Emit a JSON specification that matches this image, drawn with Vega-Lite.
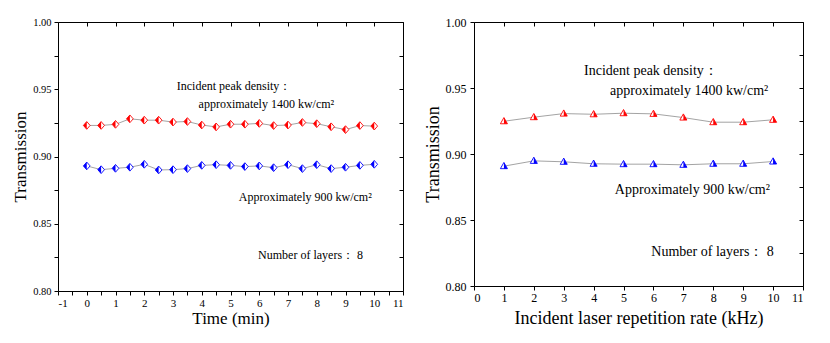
{
  "$schema": "https://vega.github.io/schema/vega-lite/v6.json",
  "padding": {"left": 11, "top": 16, "right": 5, "bottom": 5},
  "spacing": 20,
  "background": "white",
  "config": {
    "font": "'Liberation Serif', 'Times New Roman', serif",
    "view": {"stroke": null},
    "axis": {"domainColor": "black", "tickColor": "black", "labelColor": "black", "titleColor": "black", "grid": false, "labelFont": "'Liberation Serif', 'Times New Roman', serif", "titleFont": "'Liberation Serif', 'Times New Roman', serif", "titleFontWeight": "normal", "domainWidth": 1, "tickWidth": 1}
  },
  "datasets": {
    "time": [
      {"x": 0, "y": 0.9231, "s": "1400"}, {"x": 0.5, "y": 0.9231, "s": "1400"}, {"x": 1, "y": 0.9239, "s": "1400"}, {"x": 1.5, "y": 0.928, "s": "1400"}, {"x": 2, "y": 0.927, "s": "1400"}, {"x": 2.5, "y": 0.927, "s": "1400"}, {"x": 3, "y": 0.9256, "s": "1400"}, {"x": 3.5, "y": 0.926, "s": "1400"}, {"x": 4, "y": 0.9234, "s": "1400"}, {"x": 4.5, "y": 0.922, "s": "1400"}, {"x": 5, "y": 0.924, "s": "1400"}, {"x": 5.5, "y": 0.924, "s": "1400"}, {"x": 6, "y": 0.9246, "s": "1400"}, {"x": 6.5, "y": 0.923, "s": "1400"}, {"x": 7, "y": 0.9234, "s": "1400"}, {"x": 7.5, "y": 0.9253, "s": "1400"}, {"x": 8, "y": 0.9244, "s": "1400"}, {"x": 8.5, "y": 0.9221, "s": "1400"}, {"x": 9, "y": 0.920, "s": "1400"}, {"x": 9.5, "y": 0.923, "s": "1400"}, {"x": 10, "y": 0.9226, "s": "1400"},
      {"x": 0, "y": 0.893, "s": "900"}, {"x": 0.5, "y": 0.8902, "s": "900"}, {"x": 1, "y": 0.8912, "s": "900"}, {"x": 1.5, "y": 0.892, "s": "900"}, {"x": 2, "y": 0.8942, "s": "900"}, {"x": 2.5, "y": 0.890, "s": "900"}, {"x": 3, "y": 0.8902, "s": "900"}, {"x": 3.5, "y": 0.891, "s": "900"}, {"x": 4, "y": 0.8934, "s": "900"}, {"x": 4.5, "y": 0.8939, "s": "900"}, {"x": 5, "y": 0.8934, "s": "900"}, {"x": 5.5, "y": 0.8925, "s": "900"}, {"x": 6, "y": 0.893, "s": "900"}, {"x": 6.5, "y": 0.8917, "s": "900"}, {"x": 7, "y": 0.8939, "s": "900"}, {"x": 7.5, "y": 0.891, "s": "900"}, {"x": 8, "y": 0.8939, "s": "900"}, {"x": 8.5, "y": 0.891, "s": "900"}, {"x": 9, "y": 0.892, "s": "900"}, {"x": 9.5, "y": 0.8934, "s": "900"}, {"x": 10, "y": 0.8942, "s": "900"}
    ],
    "rate": [
      {"x": 1, "y": 0.9248, "s": "1400"}, {"x": 2, "y": 0.9279, "s": "1400"}, {"x": 3, "y": 0.9306, "s": "1400"}, {"x": 4, "y": 0.9301, "s": "1400"}, {"x": 5, "y": 0.9309, "s": "1400"}, {"x": 6, "y": 0.9304, "s": "1400"}, {"x": 7, "y": 0.9276, "s": "1400"}, {"x": 8, "y": 0.9241, "s": "1400"}, {"x": 9, "y": 0.9241, "s": "1400"}, {"x": 10, "y": 0.9259, "s": "1400"},
      {"x": 1, "y": 0.8908, "s": "900"}, {"x": 2, "y": 0.8948, "s": "900"}, {"x": 3, "y": 0.8941, "s": "900"}, {"x": 4, "y": 0.8926, "s": "900"}, {"x": 5, "y": 0.8923, "s": "900"}, {"x": 6, "y": 0.8923, "s": "900"}, {"x": 7, "y": 0.8918, "s": "900"}, {"x": 8, "y": 0.8926, "s": "900"}, {"x": 9, "y": 0.8926, "s": "900"}, {"x": 10, "y": 0.8943, "s": "900"}
    ],
    "timeText": [
      {"x": 3.13, "y": 0.9525, "t": "Incident peak density："},
      {"x": 3.89, "y": 0.9387, "t": "approximately 1400 kw/cm²"},
      {"x": 5.29, "y": 0.870, "t": "Approximately 900 kw/cm²"},
      {"x": 5.96, "y": 0.827, "t": "Number of layers：  8"}
    ],
    "rateText": [
      {"x": 3.68, "y": 0.9632, "t": "Incident peak density："},
      {"x": 4.55, "y": 0.948, "t": "approximately 1400 kw/cm²"},
      {"x": 4.71, "y": 0.873, "t": "Approximately 900 kw/cm²"},
      {"x": 5.93, "y": 0.8257, "t": "Number of layers：  8"}
    ]
  },
  "hconcat": [
    {
      "width": 345,
      "height": 269,
      "resolve": {"axis": {"x": "independent", "y": "independent"}},
      "layer": [
        {
          "data": {"name": "time"},
          "mark": {"type": "line", "color": "#8c8c8c", "strokeWidth": 0.8},
          "encoding": {
            "x": {"field": "x", "type": "quantitative", "scale": {"domain": [-1, 11], "nice": false}, "axis": {"orient": "bottom", "title": "Time (min)", "titleFontSize": 17, "titlePadding": 2, "labelFontSize": 11, "values": [-1, -0.5, 0, 0.5, 1, 1.5, 2, 2.5, 3, 3.5, 4, 4.5, 5, 5.5, 6, 6.5, 7, 7.5, 8, 8.5, 9, 9.5, 10, 10.5, 11], "labelExpr": "datum.value % 1 == 0 ? toString(datum.value) : ''", "tickSize": 4, "labelPadding": 2}},
            "y": {"field": "y", "type": "quantitative", "scale": {"domain": [0.8, 1.0], "nice": false, "zero": false}, "axis": {"orient": "left", "title": "Transmission", "titleFontSize": 17, "titlePadding": 3, "labelFontSize": 10.5, "values": [0.8, 0.825, 0.85, 0.875, 0.9, 0.925, 0.95, 0.975, 1.0], "labelExpr": "abs(datum.value * 20 - round(datum.value * 20)) < 0.001 ? format(datum.value, '.2f') : ''", "tickSize": 4, "labelPadding": 3}},
            "detail": {"field": "s"}
          }
        },
        {
          "data": {"name": "time"},
          "mark": {"type": "point", "shape": "M0,-1.15L1,0L0,1.15L-1,0Z", "filled": false, "fill": "white", "fillOpacity": 1, "strokeWidth": 0.9, "size": 45, "opacity": 1},
          "encoding": {
            "x": {"field": "x", "type": "quantitative", "axis": {"orient": "top", "title": null, "labels": false, "values": [-1, 0, 1, 2, 3, 4, 5, 6, 7, 8, 9, 10, 11], "tickSize": -4, "domainColor": "black"}},
            "y": {"field": "y", "type": "quantitative", "axis": {"orient": "right", "title": null, "labels": false, "values": [0.8, 0.825, 0.85, 0.875, 0.9, 0.925, 0.95, 0.975, 1.0], "tickSize": -4}},
            "stroke": {"field": "s", "type": "nominal", "scale": {"domain": ["1400", "900"], "range": ["#ff0000", "#0000ff"]}, "legend": null}
          }
        },
        {
          "data": {"name": "time"},
          "mark": {"type": "point", "shape": "M0,-1.15L-1,0L0,1.15Z", "filled": true, "size": 45, "opacity": 1},
          "encoding": {
            "x": {"field": "x", "type": "quantitative", "axis": null},
            "y": {"field": "y", "type": "quantitative", "axis": null},
            "fill": {"field": "s", "type": "nominal", "scale": {"domain": ["1400", "900"], "range": ["#ff0000", "#0000ff"]}, "legend": null}
          }
        },
        {
          "data": {"name": "timeText"},
          "mark": {"type": "text", "align": "left", "baseline": "middle", "fontSize": 12, "color": "black"},
          "encoding": {
            "x": {"field": "x", "type": "quantitative", "axis": null},
            "y": {"field": "y", "type": "quantitative", "axis": null},
            "text": {"field": "t"}
          }
        }
      ]
    },
    {
      "width": 329,
      "height": 264,
      "resolve": {"axis": {"x": "independent", "y": "independent"}},
      "layer": [
        {
          "data": {"name": "rate"},
          "mark": {"type": "line", "color": "#8c8c8c", "strokeWidth": 0.8},
          "encoding": {
            "x": {"field": "x", "type": "quantitative", "scale": {"domain": [0, 11], "nice": false}, "axis": {"orient": "bottom", "title": "Incident laser repetition rate (kHz)", "titleFontSize": 18, "titlePadding": 6, "labelFontSize": 12, "values": [0, 1, 2, 3, 4, 5, 6, 7, 8, 9, 10, 11], "tickSize": 4, "labelPadding": 2}},
            "y": {"field": "y", "type": "quantitative", "scale": {"domain": [0.8, 1.0], "nice": false, "zero": false}, "axis": {"orient": "left", "title": "Transmission", "titleFontSize": 18, "titlePadding": 3, "labelFontSize": 12, "values": [0.8, 0.85, 0.9, 0.95, 1.0], "format": ".2f", "tickSize": 4, "labelPadding": 4}},
            "detail": {"field": "s"}
          }
        },
        {
          "data": {"name": "rate"},
          "mark": {"type": "point", "shape": "M0,-1.1L1.05,0.75L-1.05,0.75Z", "filled": false, "fill": "white", "fillOpacity": 1, "strokeWidth": 0.9, "size": 45, "opacity": 1},
          "encoding": {
            "x": {"field": "x", "type": "quantitative", "axis": {"orient": "top", "title": null, "labels": false, "values": [0, 1, 2, 3, 4, 5, 6, 7, 8, 9, 10, 11], "tickSize": -4}},
            "y": {"field": "y", "type": "quantitative", "axis": {"orient": "right", "title": null, "labels": false, "values": [0.8, 0.825, 0.85, 0.875, 0.9, 0.925, 0.95, 0.975, 1.0], "tickSize": -4}},
            "stroke": {"field": "s", "type": "nominal", "scale": {"domain": ["1400", "900"], "range": ["#ff0000", "#0000ff"]}, "legend": null}
          }
        },
        {
          "data": {"name": "rate"},
          "mark": {"type": "point", "shape": "M0,-1.1L1.05,0.75L0,0.75Z", "filled": true, "size": 45, "opacity": 1},
          "encoding": {
            "x": {"field": "x", "type": "quantitative", "axis": null},
            "y": {"field": "y", "type": "quantitative", "axis": null},
            "fill": {"field": "s", "type": "nominal", "scale": {"domain": ["1400", "900"], "range": ["#ff0000", "#0000ff"]}, "legend": null}
          }
        },
        {
          "data": {"name": "rateText"},
          "mark": {"type": "text", "align": "left", "baseline": "middle", "fontSize": 14, "color": "black"},
          "encoding": {
            "x": {"field": "x", "type": "quantitative", "axis": null},
            "y": {"field": "y", "type": "quantitative", "axis": null},
            "text": {"field": "t"}
          }
        }
      ]
    }
  ]
}
